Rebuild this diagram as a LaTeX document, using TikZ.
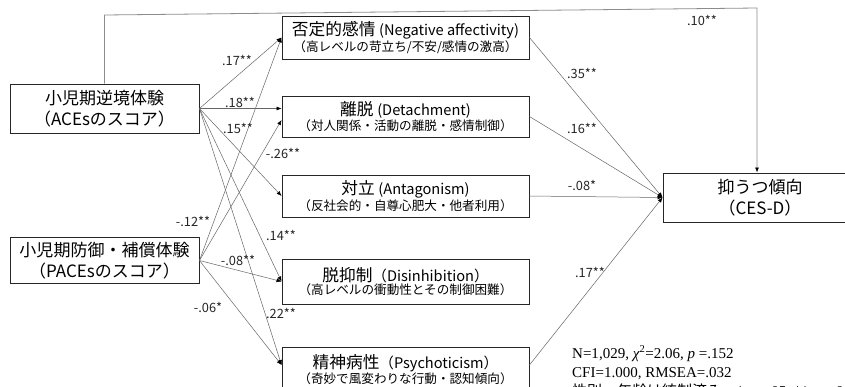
\documentclass[tikz,border=0pt]{standalone}
\usepackage{fontspec}
\setmainfont{Noto Sans CJK JP}
\newfontfamily\timesf{Liberation Serif}
\usetikzlibrary{arrows.meta,calc}
\begin{document}
\begin{tikzpicture}[x=1pt,y=-1pt,
  srcbox/.style={draw=black!85, line width=0.9pt, minimum width=189pt, minimum height=48pt, align=center, inner sep=0pt, font=\fontsize{17}{21}\selectfont},
  midbox/.style={draw=black!85, line width=0.9pt, minimum width=247pt, align=center, inner sep=0pt},
  lnk/.style={draw=black!60, line width=0.5pt, -{Latex[length=5pt,width=4pt,color=black]}},
  toplnk/.style={draw=black!45, line width=0.8pt, -{Latex[length=5pt,width=4pt,color=black]}},
  coef/.style={font=\fontsize{12.8}{14}\selectfont, text=black!85, inner sep=0pt},
]
\useasboundingbox (0,0) rectangle (845,386);
\clip (0,0) rectangle (845,386);
\fill[white] (0,0) rectangle (845,386);

% source boxes
\node[srcbox, minimum height=49pt] (ace) at (104.5,108.5) {小児期逆境体験\\（ACEsのスコア）};
\node[srcbox, minimum height=46pt] (pace) at (104.5,260.5) {小児期防御・補償体験\\（PACEsのスコア）};

% middle boxes
\newcommand{\ttlline}[2]{{\fontsize{16.7}{19}\selectfont #1{\fontsize{14.6}{19}\selectfont #2}}}
\newcommand{\subline}[1]{{\fontsize{12.6}{19}\selectfont #1}}
\node[midbox, minimum height=43pt] (b1) at (405.5,37.5) {\ttlline{否定的感情 }{(Negative affectivity)}\\[0pt]\subline{（高レベルの苛立ち/不安/感情の激高）}};
\node[midbox, minimum height=41pt] (b2) at (405.5,116.5) {\ttlline{離脱 }{(Detachment)}\\[0pt]\subline{（対人関係・活動の離脱・感情制御）}};
\node[midbox, minimum height=42pt] (b3) at (405.5,196) {\ttlline{対立 }{(Antagonism)}\\[0pt]\subline{（反社会的・自尊心肥大・他者利用）}};
\node[midbox, minimum height=45pt] (b4) at (405.5,281.5) {\ttlline{脱抑制}{（Disinhibition）}\\[0pt]\subline{（高レベルの衝動性とその制御困難）}};
\node[midbox, minimum height=45pt] (b5) at (405.5,369.5) {\ttlline{精神病性}{（Psychoticism）}\\[0pt]\subline{（奇妙で風変わりな行動・認知傾向）}};

% outcome
\node[srcbox, minimum width=194pt, minimum height=49pt] (dep) at (760,197.5) {抑うつ傾向\\（CES-D）};

% helper points
\coordinate (b2lo) at ($(b2.west)+(0,3.5)$);
\coordinate (b5in) at ($(b5.west)+(0,-4.5)$);
\coordinate (b5out) at ($(b5.east)+(0,-4.5)$);
\coordinate (tl) at (104.5,15);
\coordinate (tr) at (757,8);

% ACEs paths
\draw[lnk] (ace.east) -- (b1.west);
\draw[lnk] (ace.east) -- (b2.west |- ace.east);
\draw[lnk] (ace.east) -- (b3.west);
\draw[lnk] (ace.east) -- (b4.west);
\draw[lnk] (ace.east) -- (b5in);
% PACEs paths
\draw[lnk] (pace.east) -- (b1.west);
\draw[lnk] (pace.east) -- (b2lo);
\draw[lnk] (pace.east) -- (b4.west);
\draw[lnk] (pace.east) -- (b5in);
% to outcome
\draw[lnk] (b1.east) -- (dep.west);
\draw[lnk] (b2.east) -- (dep.west);
\draw[lnk] (b3.east) -- (dep.west);
\draw[lnk] (b5out) -- (dep.west);
% direct path
\draw[toplnk] (ace.north) -- (tl) -- (tr) -- (tr |- dep.north);

% coefficients
\node[coef] (c1) at (237,60) {.17**};
\node[coef] (c2) at (240,102) {.18**};
\node[coef] (c3) at (238,128) {.15**};
\node[coef] (c4) at (283,153) {-.26**};
\node[coef] (c5) at (193,221) {-.12**};
\node[coef] (c6) at (281,235) {.14**};
\node[coef] (c7) at (238,260) {-.08**};
\node[coef] (c8) at (208,307) {-.06*};
\node[coef] (c9) at (281,313) {.22**};
\node[coef] (c10) at (582,73) {.35**};
\node[coef] (c11) at (582,128) {.16**};
\node[coef] (c12) at (582,185) {-.08*};
\node[coef] (c13) at (590,272) {.17**};
\node[coef] (c14) at (702,20) {.10**};

% fit statistics
\node[anchor=base west, inner sep=0pt, font=\timesf\fontsize{15}{18}\selectfont] (s1) at (572,358) {N=1,029, \textit{χ}\textsuperscript{2}=2.06, \textit{p} =.152};
\node[anchor=base west, inner sep=0pt, font=\timesf\fontsize{15}{18}\selectfont] (s2) at (572,377) {CFI=1.000, RMSEA=.032};
\node[anchor=base west, inner sep=0pt, font=\timesf\fontsize{15}{18}\selectfont] (s3) at (572,396) {{\rmfamily 性別・年齢は統制済み．}*\textit{p} < .05, **\textit{p} < .01};
\end{tikzpicture}
\end{document}
